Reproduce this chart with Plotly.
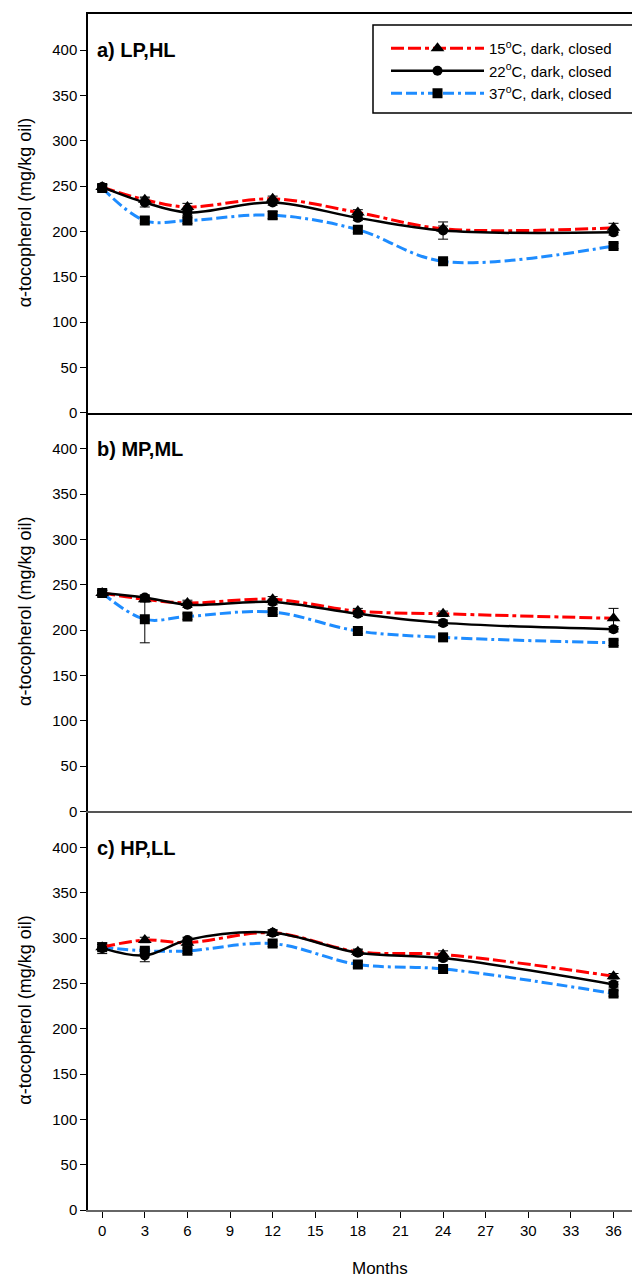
import plotly.graph_objects as go

months = [0, 3, 6, 12, 18, 24, 36]
x_ticks = [0, 3, 6, 9, 12, 15, 18, 21, 24, 27, 30, 33, 36]
y_ticks = [0, 50, 100, 150, 200, 250, 300, 350, 400]

series_names = ["15<sup>o</sup>C, dark, closed", "22<sup>o</sup>C, dark, closed", "37<sup>o</sup>C, dark, closed"]
panel_labels = ["a) LP,HL", "b) MP,ML", "c) HP,LL"]

# panel a) LP,HL
a_15 = [249, 235, 227, 236, 221, 203, 204]
a_15_err = [3, 3, 4, 3, 3, 3, 5]
a_22 = [249, 232, 221, 232, 215, 201, 199]
a_22_err = [3, 5, 3, 3, 3, 9.5, 3]
a_37 = [248, 212, 212, 218, 202, 167, 184]
a_37_err = [3, 3, 3, 4, 3, 3, 3]

# panel b) MP,ML
b_15 = [241, 234, 230, 234, 221, 218, 213]
b_15_err = [3, 3, 3, 3, 3, 3, 11]
b_22 = [241, 236, 228, 231, 218, 208, 201]
b_22_err = [3, 3, 3, 3, 3, 3, 3]
b_37 = [241, 212, 215, 220, 199, 192, 186]
b_37_err = [3, 26, 3, 3, 3, 3, 3]

# panel c) HP,LL
c_15 = [290, 298, 295, 306, 285, 282, 258]
c_15_err = [3, 3, 3, 3, 3, 4, 3]
c_22 = [289, 281, 298, 306, 284, 278, 249]
c_22_err = [6, 7, 3, 3, 3, 3, 3]
c_37 = [290, 286, 286, 294, 271, 266, 239]
c_37_err = [3, 3, 3, 3, 3, 3, 3]

W, H = 632, 1278
ML, MR, MT, MB = 88, 0, 14, 68
FONT = "Liberation Sans, Arial, sans-serif"

styles = {
    "15": dict(color="#ff0000", width=3, dash="13px,4px,13px,4px,4px,4px", symbol="triangle-up", size=12, rank=1),
    "22": dict(color="#000000", width=2.5, dash="solid", symbol="circle", size=10, rank=2),
    "37": dict(color="#1e8cff", width=3, dash="11px,4px,11px,4px,3px,4px", symbol="square", size=10, rank=3),
}

panels = [
    ("x3", "y3", {"15": (a_15, a_15_err), "22": (a_22, a_22_err), "37": (a_37, a_37_err)}, True),
    ("x2", "y2", {"15": (b_15, b_15_err), "22": (b_22, b_22_err), "37": (b_37, b_37_err)}, False),
    ("x", "y", {"15": (c_15, c_15_err), "22": (c_22, c_22_err), "37": (c_37, c_37_err)}, False),
]

fig = go.Figure()
name_of = {"15": series_names[0], "22": series_names[1], "37": series_names[2]}
for xa, ya, data, show in panels:
    for key in ["37", "15", "22"]:
        vals, errs = data[key]
        s = styles[key]
        fig.add_trace(go.Scatter(
            x=months, y=vals, xaxis=xa, yaxis=ya,
            mode="lines+markers",
            name=name_of[key], legendrank=s["rank"], showlegend=show,
            line=dict(color=s["color"], width=s["width"], dash=s["dash"], shape="spline", smoothing=1.0),
            marker=dict(symbol=s["symbol"], size=s["size"], color="black"),
            error_y=dict(type="data", array=errs, visible=True, color="black", thickness=1, width=5),
        ))

third = 1 / 3
xr = [-1.0, 37.3]
common_y = dict(range=[0, 440], tickvals=y_ticks, ticks="outside", ticklen=6, tickwidth=1, tickcolor="black",
                showline=True, linecolor="black", linewidth=1.5, showgrid=False, zeroline=False,
                tickfont=dict(family=FONT, size=15, color="black"))
common_x = dict(range=xr, showgrid=False, zeroline=False, showline=True)

PH = H - MT - MB
fig.update_layout(
    width=W, height=H,
    margin=dict(l=ML, r=MR, t=MT, b=MB),
    paper_bgcolor="white", plot_bgcolor="white",
    font=dict(family=FONT, size=15, color="black"),
    xaxis=dict(**common_x, anchor="y", domain=[0, 1], tickvals=x_ticks, ticks="outside", ticklen=6,
               tickcolor="black", linecolor="#666666", linewidth=2,
               tickfont=dict(family=FONT, size=15, color="black")),
    xaxis2=dict(**common_x, anchor="y2", matches="x", showticklabels=False, ticks="",
                linecolor="#555555", linewidth=1.5),
    xaxis3=dict(**common_x, anchor="y3", matches="x", showticklabels=False, ticks="",
                linecolor="black", linewidth=1.5, mirror=True),
    yaxis=dict(**common_y, domain=[0, third]),
    yaxis2=dict(**common_y, domain=[third, 2 * third]),
    yaxis3=dict(**common_y, domain=[2 * third, 1]),
    showlegend=True,
    legend=dict(x=(386 - ML) / (W - ML), y=1 - (32 - MT) / PH, xanchor="left", yanchor="top",
                bgcolor="rgba(0,0,0,0)", borderwidth=0, itemwidth=93, tracegroupgap=0,
                font=dict(family=FONT, size=15, color="black")),
)

# legend frame (clipped at the right edge like the reference)
fig.add_shape(type="rect", xref="paper", yref="paper",
              x0=(373 - ML) / (W - ML), x1=(700 - ML) / (W - ML),
              y0=1 - (113 - MT) / PH, y1=1 - (25 - MT) / PH,
              line=dict(color="black", width=1.5), fillcolor="rgba(0,0,0,0)")

# panel labels
for (xa, ya, _, _), lab in zip(panels, panel_labels):
    fig.add_annotation(x=-0.5, y=400, xref=xa, yref=ya, text="<b>" + lab + "</b>", showarrow=False,
                       xanchor="left", yanchor="middle", font=dict(family=FONT, size=20, color="black"))

# y-axis titles
for i in range(3):
    yc = (i + 0.5) * third
    fig.add_annotation(x=(25 - ML) / (W - ML), y=yc, xref="paper", yref="paper",
                       text="\u03b1-tocopherol (mg/kg oil)", textangle=-90, showarrow=False,
                       xanchor="center", yanchor="middle", font=dict(family=FONT, size=18, color="black"))

# x-axis title
fig.add_annotation(x=(380 - ML) / (W - ML), y=-(1268 - (H - MB)) / PH, xref="paper", yref="paper",
                   text="Months", showarrow=False, xanchor="center", yanchor="middle",
                   font=dict(family=FONT, size=17, color="black"))

fig.write_html("out.html", config={"displayModeBar": False},
               post_script="document.body.style.margin='0';document.body.style.padding='0';")
